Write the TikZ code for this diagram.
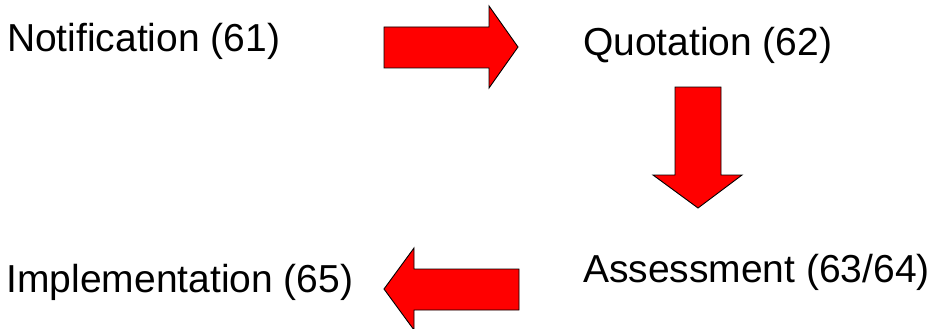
\documentclass[tikz,border=0pt]{standalone}
\usepackage{fontspec}
\setmainfont{Liberation Sans}
\begin{document}
\begin{tikzpicture}[x=1pt,y=-1pt,
  label/.style={anchor=base west,inner sep=0pt,outer sep=0pt,font=\fontsize{39}{44}\selectfont},
  bigarrow/.style={fill=red,draw=black,line width=0.9pt,line join=miter}]
\useasboundingbox (0,0) rectangle (937,329);

% stage labels
\node[label] (notif) at (7,52) {Notification (61)};
\node[label] (quot) at (583,56) {Quotation (62)};
\node[label] (assess) at (583,282) {Assessment (63/64)};
\node[label] (impl) at (6.5,292) {Implementation (65)};

% block arrows between the stages
\draw[bigarrow] (384,27) -- (489,27) -- (489,6) -- (518,47) -- (489,88) -- (489,68) -- (384,68) -- cycle;
\draw[bigarrow] (675,87) -- (721,87) -- (721,175) -- (742,175) -- (698,208) -- (653,175) -- (675,175) -- cycle;
\draw[bigarrow] (519,269) -- (414,269) -- (414,248) -- (384,289) -- (414,330) -- (414,310) -- (519,310) -- cycle;
\end{tikzpicture}
\end{document}
